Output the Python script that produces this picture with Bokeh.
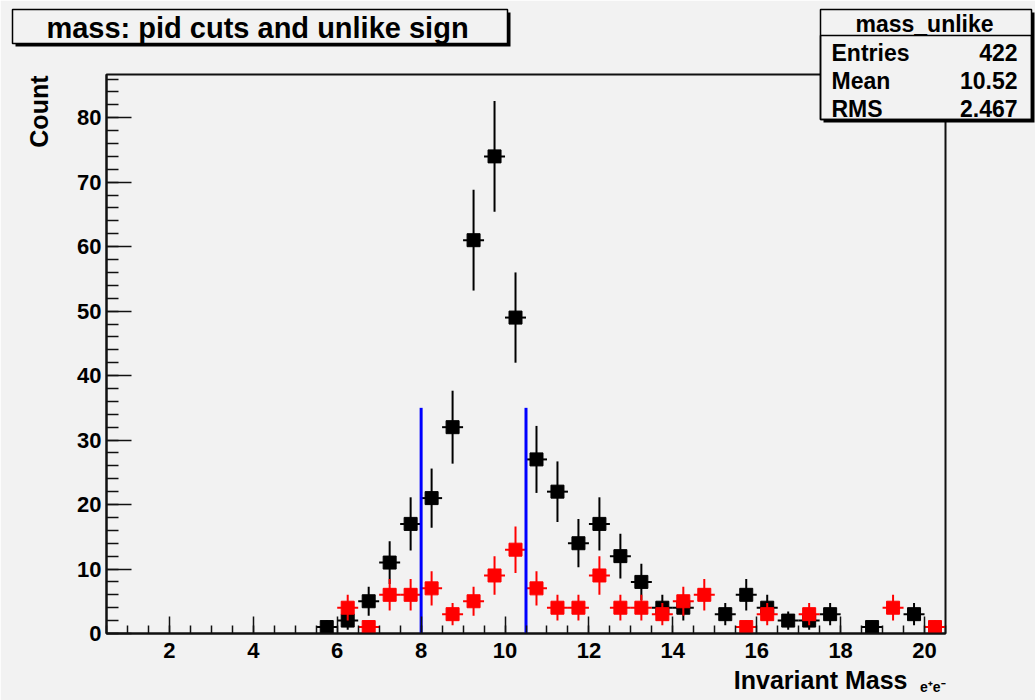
import numpy as np
from bokeh.plotting import figure
from bokeh.models import SingleIntervalTicker, Range1d, ColumnDataSource
from bokeh.core.properties import value
from bokeh.embed import file_html
from bokeh.resources import INLINE

# ---------------- data ----------------
bin_width = 0.5
unlike_x = [5.75, 6.25, 6.75, 7.25, 7.75, 8.25, 8.75, 9.25, 9.75, 10.25, 10.75,
            11.25, 11.75, 12.25, 12.75, 13.25, 13.75, 14.25, 15.25, 15.75, 16.25,
            16.75, 17.25, 17.75, 18.75, 19.75]
unlike_y = [1, 2, 5, 11, 17, 21, 32, 61, 74, 49, 27,
            22, 14, 17, 12, 8, 4, 4, 3, 6, 4,
            2, 2, 3, 1, 3]

like_x = [6.25, 6.75, 7.25, 7.75, 8.25, 8.75, 9.25, 9.75, 10.25, 10.75, 11.25,
          11.75, 12.25, 12.75, 13.25, 13.75, 14.25, 14.75, 15.75, 16.25, 17.25,
          19.25, 20.25]
like_y = [4, 1, 6, 6, 7, 3, 5, 9, 13, 7, 4,
          4, 9, 4, 4, 3, 5, 6, 1, 3, 3,
          4, 1]

cut_positions = [8.0, 10.5]
cut_height = 35.0

x_ticks_interval = 2
y_ticks_interval = 10

title_text = "mass: pid cuts and unlike sign"
stats_title = "mass_unlike"
stat_names = ["Entries", "Mean", "RMS"]
stat_values = ["422", "10.52", "2.467"]
x_title = "Invariant Mass"
x_title_sub = "e\u207ae\u207b"
y_title = "Count"

X_MIN, X_MAX = 0.5, 20.5
Y_MIN, Y_MAX = 0.0, 86.7

# ---------------- layout ----------------
W, H = 1035, 700
FL, FR, FT, FB = 106, 945, 74, 633  # frame edges in canvas pixels

BG = "#f2f2f2"
FONT = "Liberation Sans"
INK = "#111111"

p = figure(width=W, height=H, output_backend="svg", toolbar_location=None,
           x_range=Range1d(X_MIN, X_MAX), y_range=Range1d(Y_MIN, Y_MAX),
           title=None,
           min_border_left=FL, min_border_right=W - FR,
           min_border_top=FT, min_border_bottom=H - FB)
p.background_fill_color = BG
p.border_fill_color = BG
p.outline_line_color = INK
p.outline_line_width = 2
p.xgrid.visible = False
p.ygrid.visible = False


def dx(px):
    return X_MIN + (px - FL) * (X_MAX - X_MIN) / (FR - FL)


def dy(py):
    return Y_MIN + (FB - py) * (Y_MAX - Y_MIN) / (FB - FT)


for ax in (p.xaxis[0], p.yaxis[0]):
    ax.axis_line_color = INK
    ax.axis_line_width = 2
    ax.major_tick_line_color = INK
    ax.minor_tick_line_color = INK
    ax.major_tick_line_width = 1.5
    ax.minor_tick_line_width = 1.5
    ax.major_tick_out = 0
    ax.minor_tick_out = 0
    ax.major_label_text_font = FONT
    ax.major_label_text_font_style = "bold"
    ax.major_label_text_font_size = "22px"
    ax.major_label_text_color = "black"

p.xaxis.ticker = SingleIntervalTicker(interval=x_ticks_interval, num_minor_ticks=4)
p.yaxis.ticker = SingleIntervalTicker(interval=y_ticks_interval, num_minor_ticks=5)
p.xaxis.major_tick_in = 17
p.xaxis.minor_tick_in = 8
p.yaxis.major_tick_in = 25
p.yaxis.minor_tick_in = 12
p.xaxis.major_label_standoff = 9
p.yaxis.major_label_standoff = 5


def draw_hist(xs, ys, color):
    xs = np.array(xs, dtype=float)
    ys = np.array(ys, dtype=float)
    err = np.sqrt(ys)
    src = ColumnDataSource(dict(x=xs, y=ys, lo=ys - err, hi=ys + err,
                                xl=xs - bin_width / 2, xr=xs + bin_width / 2))
    p.segment(x0="x", y0="lo", x1="x", y1="hi", source=src, line_color=color, line_width=2)
    p.segment(x0="xl", y0="y", x1="xr", y1="y", source=src, line_color=color, line_width=2)
    p.scatter(x="x", y="y", source=src, marker="square", size=13,
              fill_color=color, line_color=color)


draw_hist(unlike_x, unlike_y, "black")
draw_hist(like_x, like_y, "#ff0000")

p.segment(x0=cut_positions, y0=[0] * len(cut_positions), x1=cut_positions,
          y1=[cut_height] * len(cut_positions), line_color="#0000ff", line_width=3)


# ---------------- boxes and texts (overlay level, outside the frame) ----------------
def box(l, r, t, b, fill, line_color=None, line_width=1.5):
    p.quad(left=[dx(l)], right=[dx(r)], top=[dy(t)], bottom=[dy(b)],
           fill_color=fill, fill_alpha=1.0 if fill else 0.0,
           line_color=line_color, line_width=line_width, level="overlay")


def label(x, y, text, size, align="left", baseline="middle", angle=0.0):
    p.text(x=[dx(x)], y=[dy(y)], text=[text], text_align=align,
           text_baseline=baseline, angle=angle,
           text_font=value(FONT), text_font_style="bold",
           text_font_size=value(size), text_color="black", level="overlay")


# title box with shadow
box(15, 510, 12, 46, "black")
box(12, 507, 9, 43, BG, "black", 1.5)
label(257, 27, title_text, "29px", align="center")

# stats box with shadow
box(823, 1034, 12, 122, "black")
box(820, 1031, 9, 119, BG, "black", 1.5)
box(820, 1031, 35, 119, None, "black", 1.5)
label(924, 23, stats_title, "23px", align="center")
for i, (n, v) in enumerate(zip(stat_names, stat_values)):
    yy = 52 + 28 * i
    label(831, yy, n, "23px", align="left")
    label(1017, yy, v, "23px", align="right")

# axis titles
label(907, 679, x_title, "25px", align="center" if False else "right", baseline="middle")
label(945, 686, x_title_sub, "14px", align="right", baseline="middle")
label(38, 75, y_title, "25px", align="right", baseline="middle", angle=np.pi / 2)

open("out.html", "w").write(file_html(p, INLINE))
